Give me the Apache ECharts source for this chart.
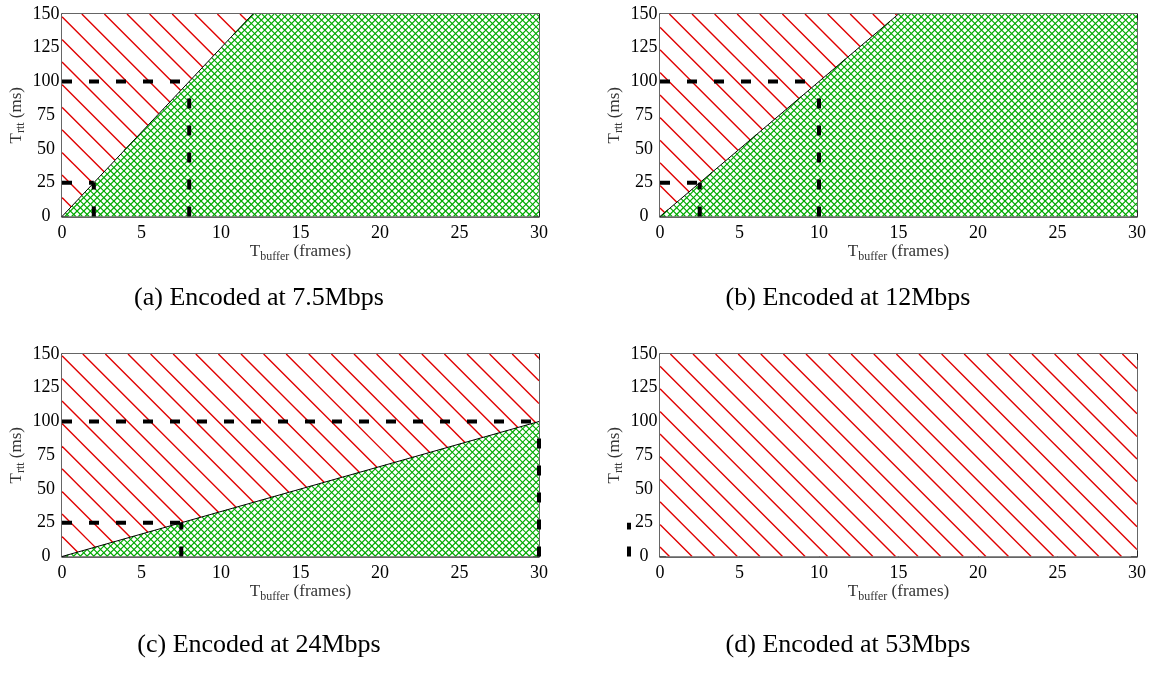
<!DOCTYPE html>
<html>
<head>
<meta charset="utf-8">
<script src="https://cdn.jsdelivr.net/npm/echarts@6/dist/echarts.min.js"></script>
<style>
  html, body { margin: 0; padding: 0; background: #fff; }
  #chart { width: 1158px; height: 673px; }
</style>
</head>
<body>
<div id="chart"></div>
<script>
// Axis ranges shared by all four panels
const X_MIN = 0, X_MAX = 30, X_STEP = 5;
const Y_MIN = 0, Y_MAX = 150, Y_STEP = 25;

const captions = [
  '(a) Encoded at 7.5Mbps',
  '(b) Encoded at 12Mbps',
  '(c) Encoded at 24Mbps',
  '(d) Encoded at 53Mbps'
];

// Boundary between infeasible (above) and feasible (below) regions: [T_buffer, T_rtt]
const boundaryA = [[0, 0], [12, 150]];
const boundaryB = [[0, 0], [15, 150]];
const boundaryC = [[0, 0], [30, 100]];
const boundaryD = [];

// Infeasible regions (red hatch)
const infeasibleA = [[0, 0], [12, 150], [0, 150]];
const infeasibleB = [[0, 0], [15, 150], [0, 150]];
const infeasibleC = [[0, 0], [30, 100], [30, 150], [0, 150]];
const infeasibleD = [[0, 0], [30, 0], [30, 150], [0, 150]];

// Feasible regions (green cross-hatch)
const feasibleA = [[0, 0], [12, 150], [30, 150], [30, 0]];
const feasibleB = [[0, 0], [15, 150], [30, 150], [30, 0]];
const feasibleC = [[0, 0], [30, 100], [30, 0]];
const feasibleD = [];

// Guide thresholds: required buffer (frames) for a given RTT (ms)
const guideRtt = [25, 100];
const guideBufferA = [2, 8];
const guideBufferB = [2.5, 10];
const guideBufferC = [7.5, 30];
const guideBufferD = [-1.95, null];

const panels = [
  { boundary: boundaryA, infeasible: infeasibleA, feasible: feasibleA, buffers: guideBufferA },
  { boundary: boundaryB, infeasible: infeasibleB, feasible: feasibleB, buffers: guideBufferB },
  { boundary: boundaryC, infeasible: infeasibleC, feasible: feasibleC, buffers: guideBufferC },
  { boundary: boundaryD, infeasible: infeasibleD, feasible: feasibleD, buffers: guideBufferD }
];

// Panel placement
const PLOT_W = 477, PLOT_H = 202.5;
const origins = [[62, 14], [660, 14], [62, 354], [660, 354]];
const captionX = [259, 848];
const captionY = [298, 645];

const SERIF = '"Liberation Serif", "DejaVu Serif", serif';

// Hatch styles: line family a*x + b*y = c in screen pixels, c stepping by `step`
const RED_HATCH = [{ a: -1, b: 1, step: 22.6 }];
const GREEN_HATCH = [{ a: -1, b: 1, step: 6.7 }, { a: 1, b: 1, step: 6.7 }];

// Clip each line of a family to a convex polygon (pixel coordinates)
function hatchSegments(poly, fam) {
  const segs = [];
  const vals = poly.map(p => fam.a * p[0] + fam.b * p[1]);
  const cMin = Math.min(...vals), cMax = Math.max(...vals);
  for (let c = Math.ceil(cMin / fam.step) * fam.step; c <= cMax; c += fam.step) {
    const hits = [];
    for (let i = 0; i < poly.length; i++) {
      const A = poly[i], B = poly[(i + 1) % poly.length];
      const fA = vals[i] - c, fB = vals[(i + 1) % poly.length] - c;
      if ((fA <= 0 && fB >= 0) || (fA >= 0 && fB <= 0)) {
        if (fA === fB) continue;
        const s = fA / (fA - fB);
        hits.push([A[0] + s * (B[0] - A[0]), A[1] + s * (B[1] - A[1])]);
      }
    }
    if (hits.length < 2) continue;
    hits.sort((p, q) => p[0] - q[0] || p[1] - q[1]);
    const p0 = hits[0], p1 = hits[hits.length - 1];
    if (Math.hypot(p1[0] - p0[0], p1[1] - p0[1]) < 0.5) continue;
    segs.push([p0, p1]);
  }
  return segs;
}

function hatchRenderer(region, families, color, width) {
  return function (params, api) {
    if (params.dataIndex !== 0) return null;
    const poly = region.map(v => api.coord(v));
    const children = [{
      type: 'polygon', shape: { points: poly }, style: { fill: '#ffffff', stroke: null }
    }];
    families.forEach(fam => {
      hatchSegments(poly, fam).forEach(s => {
        children.push({
          type: 'line',
          shape: { x1: s[0][0], y1: s[0][1], x2: s[1][0], y2: s[1][1] },
          style: { stroke: color, lineWidth: width }
        });
      });
    });
    return { type: 'group', children: children };
  };
}

const frameLine = { show: true, onZero: false, lineStyle: { color: '#333', width: 1.5 } };
const innerTick = { show: true, inside: true, length: 6, lineStyle: { color: '#222', width: 1 } };
const tickLabel = { fontFamily: SERIF, fontSize: 18, color: '#000' };
const nameRich = {
  m: { fontFamily: SERIF, fontSize: 17, color: '#333' },
  s: { fontFamily: SERIF, fontSize: 12, color: '#333', padding: [9, 0, 0, 0] }
};

const grid = [], xAxis = [], yAxis = [], series = [], graphic = [];
const offAxisGuides = [];

panels.forEach((p, i) => {
  const [left, top] = origins[i];
  grid.push({ left: left, top: top, width: PLOT_W, height: PLOT_H, containLabel: false });

  xAxis.push({
    gridIndex: i, type: 'value', position: 'bottom',
    min: X_MIN, max: X_MAX, interval: X_STEP,
    axisLine: frameLine, axisTick: innerTick, splitLine: { show: false },
    axisLabel: Object.assign({ margin: 8 }, tickLabel),
    name: '{m|T}{s|buffer}{m| (frames)}', nameLocation: 'middle', nameGap: 18,
    nameTextStyle: { rich: nameRich }
  });
  xAxis.push({
    gridIndex: i, type: 'value', position: 'top',
    min: X_MIN, max: X_MAX, interval: X_STEP,
    axisLine: frameLine, axisTick: innerTick, splitLine: { show: false },
    axisLabel: { show: false }
  });
  yAxis.push({
    gridIndex: i, type: 'value', position: 'left',
    min: Y_MIN, max: Y_MAX, interval: Y_STEP,
    axisLine: frameLine, axisTick: innerTick, splitLine: { show: false },
    axisLabel: Object.assign({ margin: 16, align: 'center' }, tickLabel),
    name: '{m|T}{s|rtt}{m| (ms)}', nameLocation: 'middle', nameGap: 35,
    nameTextStyle: { rich: nameRich }
  });
  yAxis.push({
    gridIndex: i, type: 'value', position: 'right',
    min: Y_MIN, max: Y_MAX, interval: Y_STEP,
    axisLine: frameLine, axisTick: innerTick, splitLine: { show: false },
    axisLabel: { show: false }
  });

  const xi = 2 * i, yi = 2 * i;
  const base = { xAxisIndex: xi, yAxisIndex: yi, silent: true, animation: false };

  series.push(Object.assign({}, base, {
    type: 'custom', coordinateSystem: 'cartesian2d', z: 1, clip: true,
    data: p.infeasible,
    renderItem: hatchRenderer(p.infeasible, RED_HATCH, '#e00000', 1.4)
  }));

  if (p.feasible.length) {
    series.push(Object.assign({}, base, {
      type: 'custom', coordinateSystem: 'cartesian2d', z: 2, clip: true,
      data: p.feasible,
      renderItem: hatchRenderer(p.feasible, GREEN_HATCH, '#00aa00', 1.1)
    }));
  }

  const lineBase = Object.assign({}, base, { type: 'line', showSymbol: false, symbol: 'none' });
  if (p.boundary.length) {
    series.push(Object.assign({}, lineBase, {
      data: p.boundary, z: 3,
      lineStyle: { color: '#000', width: 1 }
    }));
  }

  const dash = { color: '#000', width: 4, type: [10, 17], cap: 'butt' };
  guideRtt.forEach((rtt, k) => {
    const buf = p.buffers[k];
    if (buf === null || buf === undefined) return;
    if (buf < X_MIN) {
      // lies left of the axis range: placed after layout via the axis scale
      offAxisGuides.push({ grid: i, buf: buf, rtt: rtt });
      return;
    }
    series.push(Object.assign({}, lineBase, {
      data: [[0, rtt], [buf, rtt]], z: 4, clip: false, lineStyle: dash
    }));
    series.push(Object.assign({}, lineBase, {
      data: [[buf, 0], [buf, rtt]], z: 4, clip: false, lineStyle: dash
    }));
  });

  graphic.push({
    type: 'text',
    x: captionX[i % 2],
    y: captionY[Math.floor(i / 2)],
    style: {
      text: captions[i],
      font: '26px ' + SERIF,
      fill: '#000',
      textAlign: 'center',
      textVerticalAlign: 'middle'
    }
  });
});

const chart = echarts.init(document.getElementById('chart'), null, { renderer: 'canvas' });
chart.setOption({
  backgroundColor: '#fff',
  animation: false,
  grid: grid,
  xAxis: xAxis,
  yAxis: yAxis,
  series: series,
  graphic: graphic
});

// Vertical guide outside the x range, positioned through the panel's axes
const extra = offAxisGuides.map(g => {
  const finder = { xAxisIndex: 2 * g.grid, yAxisIndex: 2 * g.grid };
  const p0 = chart.convertToPixel(finder, [g.buf, 0]);
  const p1 = chart.convertToPixel(finder, [g.buf, g.rtt]);
  return {
    type: 'line', z: 100, silent: true,
    shape: { x1: p0[0], y1: p0[1], x2: p1[0], y2: p1[1] },
    style: { stroke: '#000', lineWidth: 4, lineDash: [10, 17], lineCap: 'butt' }
  };
});
chart.setOption({ graphic: graphic.concat(extra) });
</script>
</body>
</html>
